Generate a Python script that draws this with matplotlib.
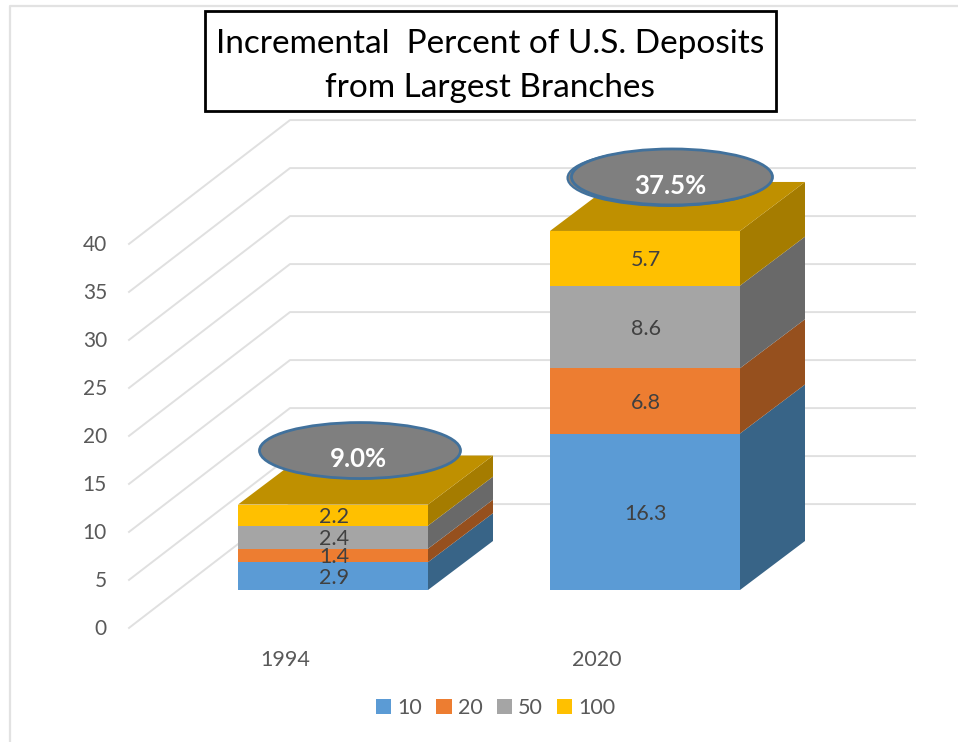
import matplotlib
matplotlib.use("Agg")
import matplotlib.pyplot as plt
from matplotlib.patches import Polygon, Ellipse, Patch, Rectangle

years = ["1994", "2020"]
series_names = ["10", "20", "50", "100"]
vals_10 = [2.9, 16.3]
vals_20 = [1.4, 6.8]
vals_50 = [2.4, 8.6]
vals_100 = [2.2, 5.7]
totals = ["9.0%", "37.5%"]
y_ticks = [0, 5, 10, 15, 20, 25, 30, 35, 40]
title = "Incremental  Percent of U.S. Deposits\nfrom Largest Branches"

front_cols = ["#5B9BD5", "#ED7D31", "#A5A5A5", "#FFC000"]
side_cols = ["#386487", "#96501E", "#696969", "#A57C00"]
top_col = "#BF9000"
grid_col = "#E0E0E0"
text_col = "#595959"

plt.rcParams['font.family'] = ['Lato', 'DejaVu Sans']

W, H = 958, 742
scale = 9.6       # pixels per percent
floor = 590       # pixel row of the bars' front floor
bar_x = [238, 550]
bar_w = 190
depth_x, depth_y = 65, 49 / scale
wall_x0, wall_x1, wall_x2 = 129, 290, 915
wall_y0, wall_y1 = -3.95, 8.95


fig = plt.figure(figsize=(W / 100, H / 100), dpi=100)
ax = fig.add_axes([0, 0, 1, 1])
ax.set_xlim(0, W)
ax.set_ylim((floor - H) / scale, floor / scale)
ax.axis('off')

# picture frame, only left and top show in the screenshot
ax.plot([W, 10, 10], [(floor - 6) / scale, (floor - 6) / scale, (floor - H) / scale],
        color="#E2E2E2", lw=1.6, zorder=1)

# walls
for v in y_ticks:
    ax.plot([wall_x0, wall_x1, wall_x2],
            [wall_y0 + v, wall_y1 + v, wall_y1 + v],
            color=grid_col, lw=1.4, zorder=1)
    ax.text(107, wall_y0 + v - 0.15, str(v), ha='right', va='center',
            fontsize=15, color=text_col)

# bars
stack = [vals_10, vals_20, vals_50, vals_100]
for i, year in enumerate(years):
    x0 = bar_x[i]
    x1 = x0 + bar_w
    base = 0
    for j, vals in enumerate(stack):
        v = vals[i]
        top = base + v
        ax.add_patch(Rectangle((x0, base), bar_w, v, fc=front_cols[j], ec='none', zorder=3))
        ax.add_patch(Polygon([(x1, base), (x1 + depth_x, base + depth_y),
                              (x1 + depth_x, top + depth_y), (x1, top)],
                             fc=side_cols[j], ec='none', zorder=3))
        ax.text(x0 + bar_w / 2 + 1, base + v / 2 - 0.2, f"{v:.1f}", ha='center', va='center',
                fontsize=15.5, color="#404040", zorder=5)
        base = top
    ax.add_patch(Polygon([(x0, base), (x0 + depth_x, base + depth_y),
                          (x1 + depth_x, base + depth_y), (x1, base)],
                         fc=top_col, ec='none', zorder=3))
    ax.text(x0 + 47, (floor - 660) / scale, year, ha='center', va='center',
            fontsize=15.5, color=text_col)

    # total bubble, sits above the stack
    cx = x0 + bar_w / 2 + 27
    cy = base + 54 / scale
    if i == 1:
        ax.add_patch(Ellipse((cx - 3, cy - 0.1), 203, 56 / scale, fc="#7F7F7F",
                             ec="#41719C", lw=1.5, zorder=6))
    ax.add_patch(Ellipse((cx, cy), 201, 56 / scale, fc="#7F7F7F", ec="#41719C", lw=2, zorder=6))
    ax.text(cx - 2, cy - 0.9, totals[i], ha='center', va='center', fontsize=18.5,
            fontweight='bold', color='white', zorder=7)

# title box
ax.text(490, (floor - 66) / scale, title, ha='center', va='center', fontsize=24,
        color='black', linespacing=1.55, zorder=9)
ax.add_patch(Rectangle((205, (floor - 111) / scale), 571, 100 / scale, fc='white',
                       ec='black', lw=2, zorder=8))

handles = [Patch(fc=c, ec='none', label=n) for c, n in zip(front_cols, series_names)]
ax.legend(handles=handles, ncol=4, frameon=False, loc='center',
          bbox_to_anchor=(496 / W, 1 - 708 / H), fontsize=15.5, handlelength=0.7,
          handleheight=0.7, handletextpad=0.3, columnspacing=0.65, labelcolor=text_col)

fig.savefig("out.png", dpi=100)
